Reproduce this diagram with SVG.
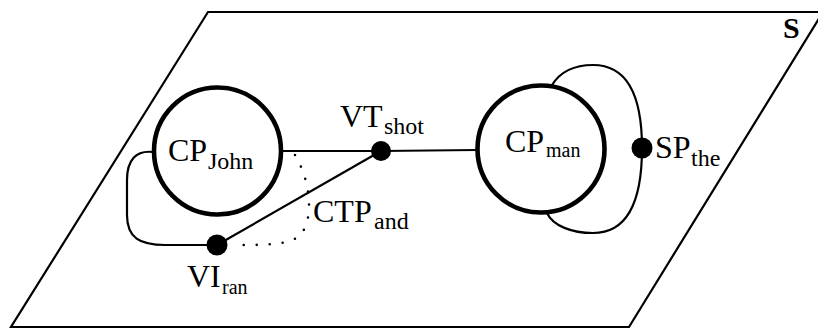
<svg xmlns="http://www.w3.org/2000/svg" width="818" height="329" viewBox="0 0 818 329">
<style>
  .frame{fill:none;stroke:#000;stroke-width:2.2;stroke-linejoin:miter}
  .cp{fill:#fff;stroke:#000;stroke-width:4.6}
  .edge{fill:none;stroke:#000;stroke-width:2.2}
  .dotted{fill:none;stroke:#000;stroke-width:2.6;stroke-linecap:round;stroke-dasharray:0 13}
  .dot{fill:#000}
  text{font-family:"Liberation Serif","Times New Roman",serif;fill:#000}
  .m{font-size:32px}
  .s{font-size:24px}
  .ss{font-size:20px}
  .b{font-size:30px;font-weight:bold}
</style>
<rect x="0" y="0" width="818" height="329" fill="#fff"/>
<g id="plane">
  <polygon class="frame" points="208,12 823,12 629,327 11,327"/>
  <text class="b" x="783" y="38">S</text>
</g>
<g id="connectors">
  <path class="edge" d="M281,151 L381,151 L477,150"/>
  <path class="edge" d="M381,151 L217,245"/>
  <path class="edge" d="M153,152 C136,150 127,160 127,180 L127,215 C127,238 140,245 165,245 L217,245"/>
  <path class="edge" d="M552,85 C562,69 577,65 593,65 C625,65 642,92 642,148 C642,205 625,233 593,233 C572,233 553,226 547,213"/>
  <path class="dotted" d="M295,155 C310,180 314,215 302,233 C294,244 272,245 240,245"/>
</g>
<g id="CP_John">
  <circle class="cp" cx="217.5" cy="151" r="63.5"/>
  <text class="m" x="168" y="161">CP<tspan class="s" x="208" y="169">John</tspan></text>
</g>
<g id="CP_man">
  <circle class="cp" cx="541" cy="149" r="63.5"/>
  <text class="m" x="505" y="152">CP<tspan class="ss" x="546" y="157">man</tspan></text>
</g>
<g id="VT_shot">
  <circle class="dot" cx="381" cy="151" r="10"/>
  <text class="m" x="340" y="127">VT<tspan class="s" x="384" y="134">shot</tspan></text>
</g>
<g id="VI_ran">
  <circle class="dot" cx="217" cy="245" r="10.5"/>
  <text class="m" x="187" y="287">VI<tspan class="ss" x="222" y="294">ran</tspan></text>
</g>
<g id="SP_the">
  <circle class="dot" cx="642" cy="148" r="10.5"/>
  <text class="m" x="655" y="158">SP<tspan class="s" x="691" y="166">the</tspan></text>
</g>
<g id="CTP_and">
  <text class="m" x="313" y="222">CTP<tspan class="s" x="374" y="229">and</tspan></text>
</g>
</svg>
